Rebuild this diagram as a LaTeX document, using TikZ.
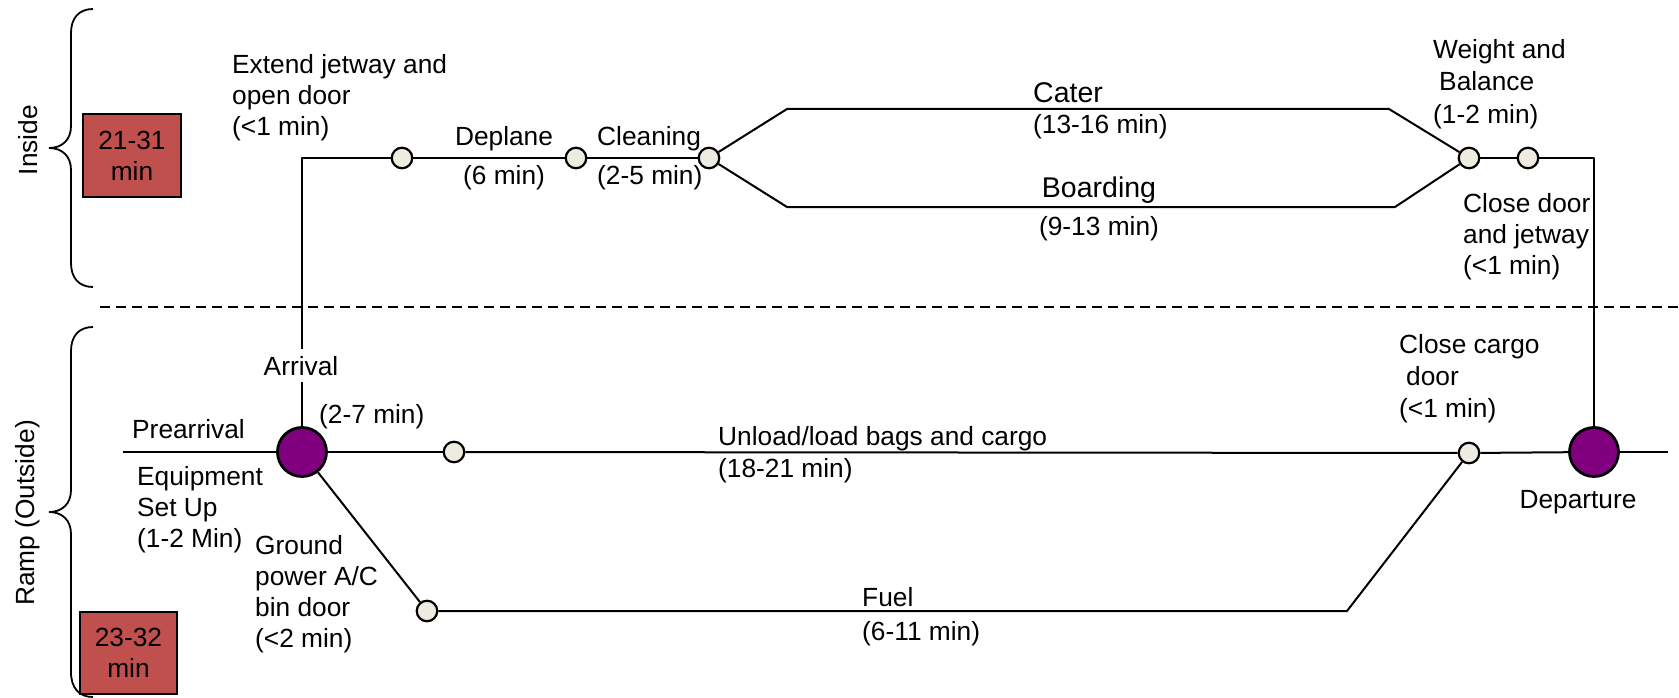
\documentclass[tikz,border=0pt]{standalone}
\usepackage{fontspec}
\setmainfont{Liberation Sans}
\definecolor{boxred}{HTML}{C0504D}
\definecolor{evpurple}{HTML}{800080}
\definecolor{evbeige}{HTML}{EEECE1}
\newcommand\lfirst{\rule{0pt}{21pt}}
\newcommand\lblfont{\fontsize{26.3}{31}\selectfont}
\newcommand\bigfont{\fontsize{28.5}{31}\selectfont}
\begin{document}
\begin{tikzpicture}[x=1pt,y=-1pt,
  lbl/.style={inner sep=0pt, font=\lblfont},
  ml/.style={lbl, align=left, anchor=north west},
  mc/.style={lbl, align=center, anchor=north},
  ev/.style={circle, draw=black, line width=2.2pt, fill=evbeige, minimum size=20.5pt, inner sep=0pt},
  big/.style={circle, draw=black, line width=2.8pt, fill=evpurple, minimum size=49pt, inner sep=0pt},
  flow/.style={line width=2pt, line join=round},
  brace/.style={line width=1.8pt},
  tbox/.style={draw=black, line width=2pt, fill=boxred, align=center, font=\lblfont, inner sep=0pt}]
\useasboundingbox (0,0) rectangle (1679,698);

% braces
\draw[brace] (93,9) .. controls (79,9) and (71,18) .. (71,33) -- (71,126)
  .. controls (71,140) and (62,148) .. (49,148)
  .. controls (62,148) and (71,156) .. (71,170) -- (71,263)
  .. controls (71,278) and (79,287) .. (93,287);
\draw[brace] (93,327) .. controls (79,327) and (71,336) .. (71,351) -- (71,490)
  .. controls (71,504) and (62,512) .. (49,512)
  .. controls (62,512) and (71,520) .. (71,534) -- (71,672)
  .. controls (71,688) and (79,697) .. (93,697);

% boxes
\node[tbox, minimum width=98pt, minimum height=83pt] (b1) at (132,155.5) {21-31\\min};
\node[tbox, minimum width=97pt, minimum height=82pt] (b2) at (128.5,653) {23-32\\min};

% divider
\draw[line width=1.5pt, dash pattern=on 10pt off 6pt] (100,307) -- (1679,307);

% event nodes
\node[big] (arr) at (302,452) {};
\node[big] (dep) at (1594,452) {};
\node[ev] (ext) at (402,158) {};
\node[ev] (dpl) at (576,158) {};
\node[ev] (cln) at (709,158) {};
\node[ev] (wb) at (1469,158) {};
\node[ev] (cd) at (1528,158) {};
\node[ev] (ul) at (454,452) {};
\node[ev] (cc) at (1469,453) {};
\node[ev] (gp) at (427,611) {};

\coordinate (pre) at (123,452);
\coordinate (tail) at (1668,452);
\coordinate (jc) at (302,158);
\coordinate (cat1) at (787,109);
\coordinate (cat2) at (1389,109);
\coordinate (brd1) at (787,207);
\coordinate (brd2) at (1395,207);
\coordinate (cdr) at (1594,158);
\coordinate (fu2) at (1347,611);

% connectors
\draw[flow] (pre) -- (arr);
\draw[flow] (arr) -- (jc) -- (ext);
\draw[flow] (ext) -- (dpl);
\draw[flow] (dpl) -- (cln);
\draw[flow] (cln) -- (cat1) -- (cat2) -- (wb);
\draw[line width=2.8pt] (802,109) -- (1058,109);
\draw[flow] (cln) -- (brd1) -- (brd2) -- (wb);
\draw[flow] (wb) -- (cd);
\draw[flow] (cd) -- (cdr) -- (dep);
\draw[flow] (arr) -- (ul);
\draw[flow] (ul) -- (cc);
\draw[flow] (cc) -- (dep);
\draw[flow] (dep) -- (tail);
\draw[flow] (arr) -- (gp);
\draw[flow] (gp) -- (fu2) -- (cc);

% labels
\node[lbl, rotate=90] (t_in) at (28,140) {Inside};
\node[lbl, rotate=90] (t_ramp) at (28,513) {Ramp (Outside)};
\node[ml] (t_ext) at (232,52) {\lfirst Extend jetway and\\open door\\(<1 min)};
\node[mc] (t_dpl) at (504,124) {\lfirst Deplane\\[8pt](6 min)};
\node[ml] (t_cln) at (597,124) {\lfirst Cleaning\\[8pt](2-5 min)};
\node[ml] (t_cat) at (1033,81) {\lfirst{\bigfont Cater}\\(13-16 min)};
\node[mc] (t_brd) at (1099,176) {\lfirst{\bigfont Boarding}\\[7pt](9-13 min)};
\node[ml] (t_wb) at (1433,37) {\lfirst Weight and\\[1.5pt]\hspace*{6pt}Balance\\[1.5pt](1-2 min)};
\node[ml] (t_cd) at (1463,191) {\lfirst Close door\\and jetway\\(<1 min)};
\node[lbl, anchor=base, fill=white, inner xsep=2pt, inner ysep=7pt] (t_arr) at (301,375) {Arrival};
\node[lbl, anchor=base west] (t_27) at (319,423) {(2-7 min)};
\node[lbl, anchor=base west] (t_pre) at (132,438) {Prearrival};
\node[ml] (t_eq) at (137,464) {\lfirst Equipment\\Set Up\\(1-2 Min)};
\node[ml] (t_gp) at (255,533) {\lfirst Ground\\power A/C\\bin door\\(<2 min)};
\node[ml] (t_ul) at (718,424) {\lfirst Unload/load bags and cargo\\[1pt](18-21 min)};
\node[ml] (t_fu) at (862,585) {\lfirst Fuel\\[3pt](6-11 min)};
\node[ml] (t_cc) at (1399,332) {\lfirst Close cargo\\[1pt]\hspace*{7pt}door\\[1pt](<1 min)};
\node[lbl, anchor=base] (t_dep) at (1578,508) {Departure};
\end{tikzpicture}
\end{document}
